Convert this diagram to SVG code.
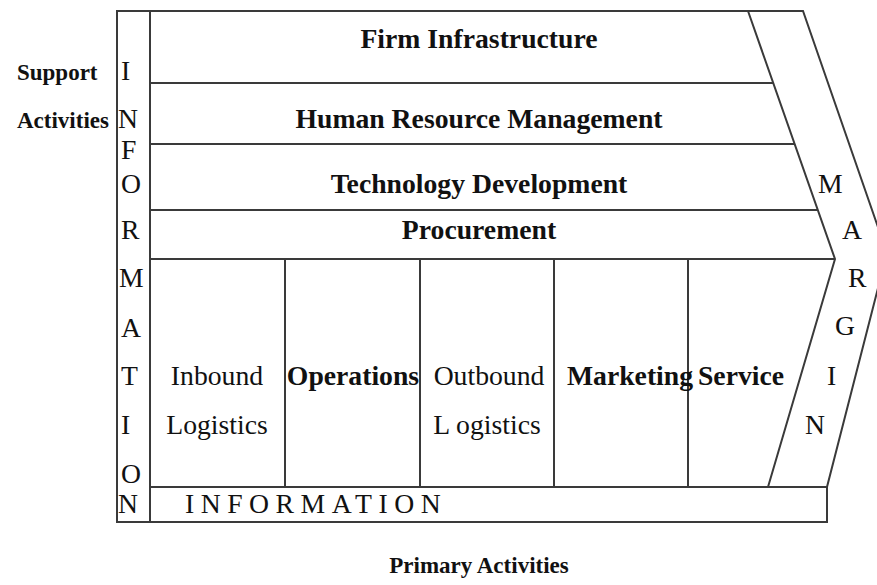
<svg xmlns="http://www.w3.org/2000/svg" width="877" height="585" viewBox="0 0 877 585">
<style>
.ln{stroke:#3a3a3a;stroke-width:2;fill:none}
.t{font-family:"Liberation Serif","Times New Roman",serif;fill:#111;font-size:27.7px}
.b{font-weight:bold}
.c{text-anchor:middle}
.s{font-size:23px}
</style>
<rect width="877" height="585" fill="#fff"/>
<g id="connectors">
<path class="ln" d="M117,11 H803 L887,253 L827,487 V522 H117 Z"/>
<path class="ln" d="M748,11 L835,259 L768,487"/>
<path class="ln" d="M150,11 V522"/>
<path class="ln" d="M150,83 H773 M150,144 H795 M150,210 H818 M150,259 H835 M150,487 H827"/>
<path class="ln" d="M285,259 V487 M420,259 V487 M554,259 V487 M688,259 V487"/>
</g>
<g id="support-label">
<text class="t b s" x="17" y="80">Support</text>
<text class="t b s" x="17" y="128">Activities</text>
</g>
<g id="firm-infrastructure"><text class="t b c" x="479" y="48">Firm Infrastructure</text></g>
<g id="human-resource-management"><text class="t b c" x="479" y="128">Human Resource Management</text></g>
<g id="technology-development"><text class="t b c" x="479" y="193">Technology Development</text></g>
<g id="procurement"><text class="t b c" x="479" y="239">Procurement</text></g>
<g id="inbound-logistics">
<text class="t c" x="217" y="385">Inbound</text>
<text class="t c" x="217" y="434">Logistics</text>
</g>
<g id="operations"><text class="t b c" x="353" y="385">Operations</text></g>
<g id="outbound-logistics">
<text class="t c" x="489" y="385">Outbound</text>
<text class="t c" x="487" y="434">L ogistics</text>
</g>
<g id="marketing"><text class="t b c" x="630" y="385">Marketing</text></g>
<g id="service"><text class="t b c" x="741" y="385">Service</text></g>
<g id="information-vertical">
<text class="t" x="121" y="80">I</text>
<text class="t" x="118" y="128">N</text>
<text class="t" x="121" y="159">F</text>
<text class="t" x="121" y="193">O</text>
<text class="t" x="121" y="239">R</text>
<text class="t" x="119" y="287">M</text>
<text class="t" x="121" y="337">A</text>
<text class="t" x="121" y="385">T</text>
<text class="t" x="121" y="434">I</text>
<text class="t" x="121" y="483">O</text>
<text class="t" x="118" y="513">N</text>
</g>
<g id="information-horizontal">
<text class="t" x="185" y="513" letter-spacing="6.5">INFORMATION</text>
</g>
<g id="margin">
<text class="t" x="818" y="193">M</text>
<text class="t" x="842" y="239">A</text>
<text class="t" x="848" y="287">R</text>
<text class="t" x="835" y="335">G</text>
<text class="t" x="827" y="385">I</text>
<text class="t" x="805" y="434">N</text>
</g>
<g id="primary-label"><text class="t b s c" x="479" y="573">Primary Activities</text></g>
</svg>
